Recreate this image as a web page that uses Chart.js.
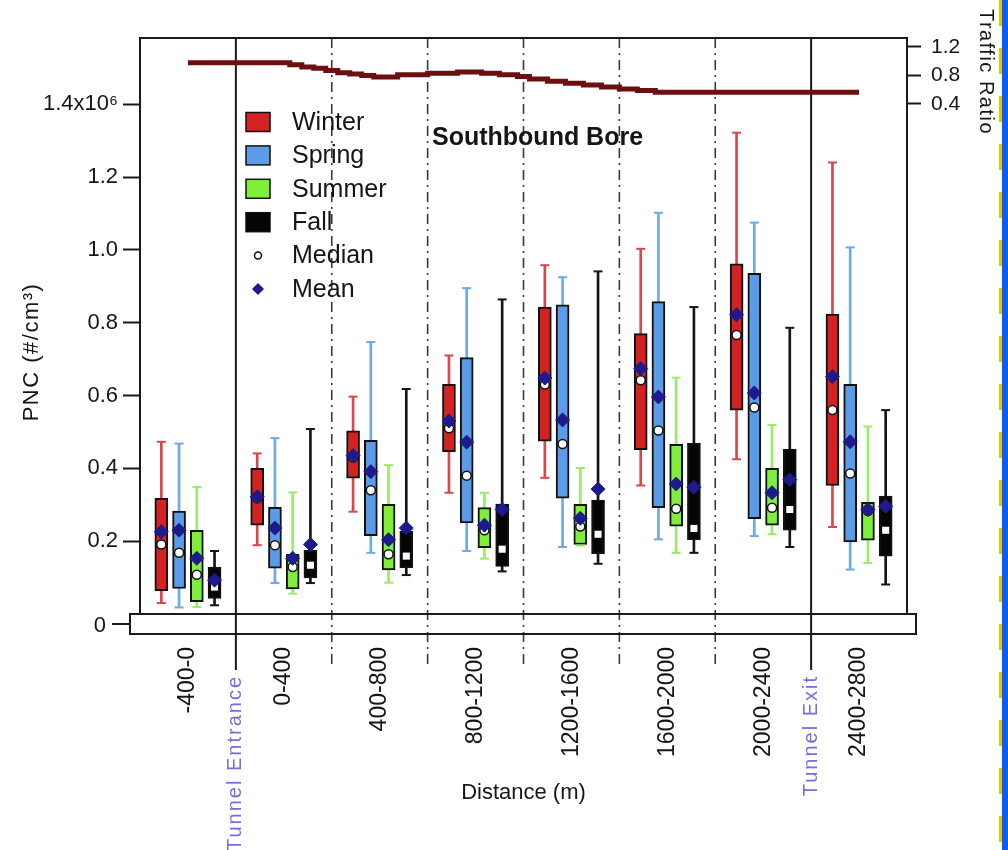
<!DOCTYPE html>
<html>
<head>
<meta charset="utf-8">
<title>Southbound Bore - PNC by season</title>
<script src="https://cdn.jsdelivr.net/npm/chart.js@4.4.1/dist/chart.umd.min.js"></script>
<style>
  html, body { margin: 0; padding: 0; background: #fff; }
  #wrap { position: relative; width: 1008px; height: 850px; overflow: hidden; }
  #edge { position: absolute; top: 0; right: 0; width: 6px; height: 850px; background: #0b5ef0; }
  #edgeDash { position: absolute; top: 0; right: 6px; width: 3px; height: 850px;
    background: repeating-linear-gradient(to bottom, #f2c200 0 26px, transparent 26px 48px); }
</style>
</head>
<body>
<div id="wrap">
  <canvas id="pncChart" width="1008" height="850" style="width:1008px;height:850px"></canvas>
  <div id="edgeDash"></div>
  <div id="edge"></div>
</div>
<script>
(function() {
    'use strict';

    // Distance bins along the bore (m)
    var categories = ['-400-0', '0-400', '400-800', '800-1200', '1200-1600', '1600-2000', '2000-2400', '2400-2800'];
    var seasons = ['Winter', 'Spring', 'Summer', 'Fall'];

    // PNC box statistics, in units of 10^6 #/cm3
    var winterMin  = [0.030, 0.189, 0.281, 0.333, 0.374, 0.353, 0.425, 0.239];
    var winterQ1   = [0.064, 0.244, 0.373, 0.446, 0.475, 0.451, 0.560, 0.353];
    var winterMed  = [0.191, 0.318, 0.430, 0.510, 0.630, 0.642, 0.766, 0.560];
    var winterQ3   = [0.318, 0.400, 0.503, 0.631, 0.843, 0.770, 0.962, 0.824];
    var winterMax  = [0.473, 0.441, 0.597, 0.710, 0.958, 1.003, 1.322, 1.240];
    var winterMean = [0.226, 0.322, 0.435, 0.530, 0.648, 0.674, 0.822, 0.652];

    var springMin  = [0.018, 0.085, 0.168, 0.173, 0.184, 0.205, 0.214, 0.122];
    var springQ1   = [0.070, 0.126, 0.215, 0.250, 0.318, 0.292, 0.262, 0.198];
    var springMed  = [0.168, 0.189, 0.340, 0.380, 0.467, 0.504, 0.567, 0.386];
    var springQ3   = [0.283, 0.293, 0.477, 0.704, 0.849, 0.858, 0.936, 0.631];
    var springMax  = [0.468, 0.483, 0.747, 0.895, 0.925, 1.102, 1.075, 1.007];
    var springMean = [0.230, 0.236, 0.391, 0.472, 0.533, 0.596, 0.607, 0.473];

    var summerMin  = [0.019, 0.056, 0.086, 0.152, 0.188, 0.168, 0.219, 0.140];
    var summerQ1   = [0.034, 0.069, 0.121, 0.182, 0.191, 0.241, 0.244, 0.203];
    var summerMed  = [0.108, 0.129, 0.164, 0.230, 0.240, 0.289, 0.292, 0.283];
    var summerQ3   = [0.230, 0.164, 0.301, 0.292, 0.301, 0.466, 0.400, 0.307];
    var summerMax  = [0.349, 0.334, 0.409, 0.333, 0.401, 0.649, 0.519, 0.515];
    var summerMean = [0.153, 0.153, 0.204, 0.244, 0.263, 0.357, 0.333, 0.287];

    var fallMin  = [0.024, 0.085, 0.107, 0.117, 0.138, 0.168, 0.184, 0.081];
    var fallQ1   = [0.043, 0.099, 0.127, 0.131, 0.166, 0.204, 0.230, 0.159];
    var fallMed  = [0.074, 0.134, 0.159, 0.178, 0.219, 0.235, 0.287, 0.230];
    var fallQ3   = [0.129, 0.175, 0.228, 0.302, 0.313, 0.469, 0.453, 0.324];
    var fallMax  = [0.173, 0.508, 0.618, 0.864, 0.941, 0.843, 0.786, 0.560];
    var fallMean = [0.093, 0.191, 0.236, 0.287, 0.343, 0.348, 0.369, 0.296];

    // Traffic ratio (step series) against distance (m)
    var trafficDist  = [-200, 225, 275, 325, 375, 425, 475, 525, 575, 675, 800, 925, 1025, 1100, 1175, 1225, 1300, 1375, 1450, 1525, 1600, 1675, 1750, 2600];
    var trafficRatio = [0.98, 0.95, 0.92, 0.90, 0.87, 0.84, 0.82, 0.80, 0.78, 0.81, 0.83, 0.85, 0.83, 0.81, 0.785, 0.75, 0.72, 0.69, 0.665, 0.64, 0.61, 0.59, 0.565, 0.565];

    // Tick labels
    var pncTicks = [0.2, 0.4, 0.6, 0.8, 1.0, 1.2, 1.4];
    var trafficTicks = [0.4, 0.8, 1.2];

    var minBySeason  = [winterMin, springMin, summerMin, fallMin];
    var q1BySeason   = [winterQ1, springQ1, summerQ1, fallQ1];
    var medBySeason  = [winterMed, springMed, summerMed, fallMed];
    var q3BySeason   = [winterQ3, springQ3, summerQ3, fallQ3];
    var maxBySeason  = [winterMax, springMax, summerMax, fallMax];
    var meanBySeason = [winterMean, springMean, summerMean, fallMean];

    // Styles
    var FONT = "'Liberation Sans', Arial, Helvetica, sans-serif";
    var boxColors = ['#d42121', '#5b9be8', '#7ef03a', '#050505'];
    var whiskerColors = ['#d9474c', '#6eaaea', '#98ec68', '#151515'];
    var meanColor = '#1d1a8e';
    var labelColor = '#7a6be0';
    var GROUP = 0.74;   // share of a distance bin taken by its four boxes

    Chart.defaults.font.family = FONT;
    Chart.defaults.color = '#151515';

    function slotOffset(k) {
        return (k - 1.5) * GROUP / seasons.length;
    }

    var datasets = [];

    seasons.forEach(function(name, k) {
        var boxes = [];
        var ranges = [];
        var caps = [];
        var meds = [];
        var means = [];
        categories.forEach(function(c, i) {
            var x = i + slotOffset(k);
            boxes.push({ x: x, y: [q1BySeason[k][i], q3BySeason[k][i]] });
            ranges.push({ x: x, y: [minBySeason[k][i], maxBySeason[k][i]] });
            caps.push({ x: x, y: maxBySeason[k][i] });
            caps.push({ x: x, y: minBySeason[k][i] });
            meds.push({ x: x, y: medBySeason[k][i] });
            means.push({ x: x, y: meanBySeason[k][i] });
        });

        // interquartile box
        datasets.push({
            type: 'bar',
            label: name,
            order: 3,
            xAxisID: 'xPos',
            yAxisID: 'y',
            data: boxes,
            grouped: false,
            barThickness: 13,
            backgroundColor: boxColors[k],
            borderColor: '#111',
            borderWidth: 2,
            borderSkipped: false
        });

        // whisker (min to max) drawn behind the box
        datasets.push({
            type: 'bar',
            label: name + ' range',
            order: 4,
            xAxisID: 'xPos',
            yAxisID: 'y',
            data: ranges,
            grouped: false,
            barThickness: 2,
            backgroundColor: whiskerColors[k],
            borderWidth: 0
        });

        // whisker caps
        datasets.push({
            type: 'scatter',
            label: name + ' caps',
            order: 2,
            xAxisID: 'xPos',
            yAxisID: 'y',
            data: caps,
            pointStyle: 'line',
            pointRadius: 4.5,
            pointBorderColor: whiskerColors[k],
            pointBorderWidth: 2
        });

        // median
        datasets.push({
            type: 'scatter',
            label: name + ' median',
            order: 1,
            xAxisID: 'xPos',
            yAxisID: 'y',
            data: meds,
            pointStyle: k === 3 ? 'rect' : 'circle',
            pointRadius: k === 3 ? 5 : 4.5,
            pointBackgroundColor: '#fff',
            pointBorderColor: k === 3 ? '#fff' : '#111',
            pointBorderWidth: k === 3 ? 0 : 1.5
        });

        // mean
        datasets.push({
            type: 'scatter',
            label: name + ' mean',
            order: 0,
            xAxisID: 'xPos',
            yAxisID: 'y',
            data: means,
            pointStyle: 'rectRot',
            pointRadius: 7,
            pointBackgroundColor: meanColor,
            pointBorderColor: meanColor,
            pointBorderWidth: 1
        });
    });

    datasets.push({
        type: 'line',
        label: 'Traffic Ratio',
        order: 5,
        xAxisID: 'xDist',
        yAxisID: 'yT',
        data: trafficDist.map(function(d, i) { return { x: d, y: trafficRatio[i] }; }),
        borderColor: '#6b1010',
        borderWidth: 5,
        borderCapStyle: 'butt',
        stepped: true,
        pointRadius: 0,
        fill: false
    });

    /**
     * Frame, broken-axis strip, dividers, legend and free text
     */
    var boreDecor = {
        id: 'boreDecor',
        beforeDatasetsDraw: function(chart) {
            var ctx = chart.ctx;
            var area = chart.chartArea;
            var xs = chart.scales.xPos;
            ctx.save();
            for (var i = 0; i < categories.length - 1; i++) {
                var bx = xs.getPixelForValue(i + 0.5);
                var solid = (i === 0 || i === categories.length - 2);
                ctx.beginPath();
                ctx.setLineDash(solid ? [] : [10, 5, 2, 5]);
                ctx.lineWidth = solid ? 2 : 1.6;
                ctx.strokeStyle = solid ? '#1a1a1a' : '#3a3a3a';
                ctx.moveTo(bx, area.top);
                ctx.lineTo(bx, solid ? 670 : 668);
                ctx.stroke();
            }
            ctx.restore();
        },
        afterDraw: function(chart) {
            var ctx = chart.ctx;
            var area = chart.chartArea;
            var xs = chart.scales.xPos;
            ctx.save();

            // plot frame
            ctx.strokeStyle = '#1a1a1a';
            ctx.lineWidth = 2;
            ctx.strokeRect(area.left, area.top, area.right - area.left, area.bottom - area.top);

            // zero strip below the broken axis
            ctx.strokeRect(130, area.bottom, 786, 20);
            ctx.beginPath();
            ctx.moveTo(112, area.bottom + 10);
            ctx.lineTo(130, area.bottom + 10);
            ctx.stroke();
            ctx.fillStyle = '#151515';
            ctx.font = '22px ' + FONT;
            ctx.textAlign = 'right';
            ctx.textBaseline = 'middle';
            ctx.fillText('0', 106, area.bottom + 12);

            // tunnel labels
            ctx.fillStyle = labelColor;
            ctx.font = '20px ' + FONT;
            ctx.letterSpacing = '2px';
            [[0, 'Tunnel Entrance'], [categories.length - 2, 'Tunnel Exit']].forEach(function(t) {
                var bx = xs.getPixelForValue(t[0] + 0.5);
                ctx.save();
                ctx.translate(bx, 675);
                ctx.rotate(-Math.PI / 2);
                ctx.textAlign = 'right';
                ctx.textBaseline = 'middle';
                ctx.fillText(t[1], 0, 0);
                ctx.restore();
            });

            // axis titles
            ctx.fillStyle = '#151515';
            ctx.save();
            ctx.font = '22px ' + FONT;
            ctx.letterSpacing = '1.5px';
            ctx.translate(32, 352);
            ctx.rotate(-Math.PI / 2);
            ctx.textAlign = 'center';
            ctx.textBaseline = 'middle';
            ctx.fillText('PNC (#/cm\u00B3)', 0, 0);
            ctx.restore();

            ctx.save();
            ctx.font = '20px ' + FONT;
            ctx.letterSpacing = '1.5px';
            ctx.translate(986, 72);
            ctx.rotate(Math.PI / 2);
            ctx.textAlign = 'center';
            ctx.textBaseline = 'middle';
            ctx.fillText('Traffic Ratio', 0, 0);
            ctx.restore();

            ctx.letterSpacing = '0px';
            ctx.font = '22px ' + FONT;
            ctx.textAlign = 'center';
            ctx.textBaseline = 'middle';
            ctx.fillText('Distance (m)', (area.left + area.right) / 2, 793);

            // in-plot title
            ctx.font = 'bold 25px ' + FONT;
            ctx.textAlign = 'left';
            ctx.fillText('Southbound Bore', 432, 138);

            // legend
            var lx = 246, ly = 122, step = 33.4;
            ctx.font = '25px ' + FONT;
            ctx.textAlign = 'left';
            ctx.lineWidth = 1.5;
            seasons.forEach(function(name, k) {
                var cy = ly + k * step;
                ctx.fillStyle = boxColors[k];
                ctx.fillRect(lx, cy - 9.5, 24, 19);
                ctx.strokeStyle = '#111';
                ctx.strokeRect(lx, cy - 9.5, 24, 19);
                ctx.fillStyle = '#151515';
                ctx.fillText(name, lx + 46, cy + 1);
            });
            var my = ly + 4 * step;
            ctx.beginPath();
            ctx.arc(lx + 12, my, 3.5, 0, Math.PI * 2);
            ctx.fillStyle = '#fff';
            ctx.fill();
            ctx.strokeStyle = '#111';
            ctx.stroke();
            ctx.fillStyle = '#151515';
            ctx.fillText('Median', lx + 46, my + 1);
            var dy = ly + 5 * step;
            ctx.beginPath();
            ctx.moveTo(lx + 12, dy - 6);
            ctx.lineTo(lx + 18, dy);
            ctx.lineTo(lx + 12, dy + 6);
            ctx.lineTo(lx + 6, dy);
            ctx.closePath();
            ctx.fillStyle = meanColor;
            ctx.fill();
            ctx.fillStyle = '#151515';
            ctx.fillText('Mean', lx + 46, dy + 1);

            ctx.restore();
        }
    };

    var ctx = document.getElementById('pncChart').getContext('2d');

    new Chart(ctx, {
        type: 'bar',
        data: {
            labels: categories,
            datasets: datasets
        },
        plugins: [boreDecor],
        options: {
            responsive: false,
            animation: false,
            events: [],
            layout: {
                padding: { top: 38, left: 0, right: 0, bottom: 0 }
            },
            plugins: {
                legend: { display: false },
                tooltip: { enabled: false },
                title: { display: false }
            },
            scales: {
                x: {
                    type: 'category',
                    labels: categories,
                    offset: true,
                    grid: { display: false, drawTicks: false },
                    border: { display: false },
                    ticks: {
                        autoSkip: false,
                        minRotation: 90,
                        maxRotation: 90,
                        padding: 33,
                        font: { size: 23 },
                        color: '#151515'
                    },
                    afterFit: function(scale) { scale.height = 236; }
                },
                xPos: {
                    type: 'linear',
                    display: false,
                    offset: false,
                    grid: { offset: false },
                    min: -0.5,
                    max: categories.length - 0.5
                },
                xDist: {
                    type: 'linear',
                    display: false,
                    offset: false,
                    grid: { offset: false },
                    min: -400,
                    max: 2800
                },
                y: {
                    type: 'linear',
                    position: 'left',
                    stacked: false,
                    min: 0,
                    max: 1.582,
                    afterBuildTicks: function(scale) {
                        scale.ticks = pncTicks.map(function(v) { return { value: v }; });
                    },
                    grid: {
                        drawOnChartArea: false,
                        drawTicks: true,
                        tickLength: 17,
                        tickWidth: 2,
                        tickColor: '#1a1a1a'
                    },
                    border: { display: false },
                    ticks: {
                        padding: 5,
                        font: { size: 22 },
                        color: '#151515',
                        callback: function(value) {
                            return Math.abs(value - 1.4) < 1e-6 ? '1.4x10\u2076' : Number(value).toFixed(1);
                        }
                    },
                    afterFit: function(scale) { scale.width = 140; }
                },
                yT: {
                    type: 'linear',
                    position: 'right',
                    stacked: false,
                    min: -6.758,
                    max: 1.326,
                    afterBuildTicks: function(scale) {
                        scale.ticks = trafficTicks.map(function(v) { return { value: v }; });
                    },
                    grid: {
                        drawOnChartArea: false,
                        drawTicks: true,
                        tickLength: 14,
                        tickWidth: 2,
                        tickColor: '#1a1a1a'
                    },
                    border: { display: false },
                    ticks: {
                        padding: 10,
                        font: { size: 21 },
                        color: '#151515',
                        callback: function(value) { return Number(value).toFixed(1); }
                    },
                    afterFit: function(scale) { scale.width = 101; }
                }
            }
        }
    });
})();
</script>
</body>
</html>
